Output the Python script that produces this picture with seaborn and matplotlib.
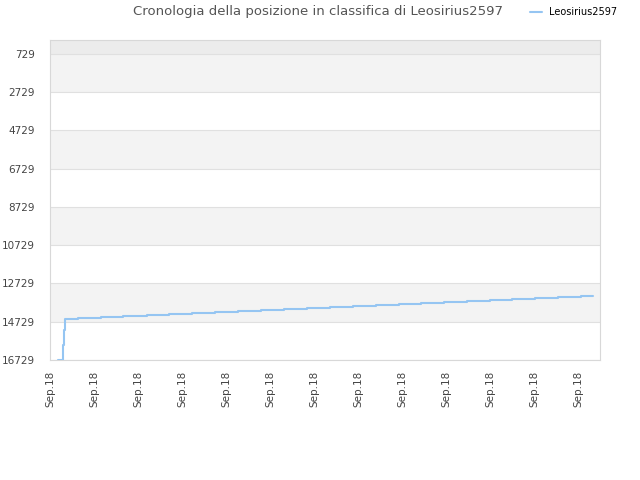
import numpy as np
import pandas as pd
import seaborn as sns
import matplotlib.pyplot as plt

# ranking history (x in days from the first tick, rank value)
day_pos = [0.38, 0.58, 0.59, 0.64, 0.70, 1.27, 2.32, 3.32, 4.41, 5.41, 6.45,
           7.50, 8.55, 9.59, 10.64, 11.68, 12.73, 13.77, 14.82, 15.86, 16.86,
           17.91, 18.95, 20.00, 21.00, 22.05, 23.09, 24.14, 24.68]
rank = [16729, 16729, 15950, 15160, 14575, 14523, 14470, 14418, 14366, 14314,
        14262, 14210, 14158, 14106, 14054, 14002, 13950, 13898, 13846, 13794,
        13742, 13690, 13638, 13586, 13534, 13482, 13430, 13365, 13365]

tick_pos = list(range(0, 25, 2))
tick_lbl = ["Sep.18"] * len(tick_pos)
y_ticks = [729, 2729, 4729, 6729, 8729, 10729, 12729, 14729, 16729]
player = "Leosirius2597"

df = pd.DataFrame({"day": day_pos, "rank": rank})

sns.set_style("white")
plt.rcParams['font.family'] = ['DejaVu Sans']

fig = plt.figure(figsize=(6.4, 4.8), dpi=100)
ax = fig.add_axes([50 / 640, 120 / 480, 550 / 640, 320 / 480])

# alternating bands
ax.axhspan(0, 729, color='#ececec', zorder=0, lw=0)
for lo in [729, 4729, 8729, 12729]:
    ax.axhspan(lo, lo + 2000, color='#f3f3f3', zorder=0, lw=0)

sns.lineplot(data=df, x="day", y="rank", color='#95c5f2', linewidth=1.5,
             drawstyle='steps-post', label=player, ax=ax, zorder=3)

ax.set_xlim(0, 25)
ax.set_ylim(16729, 0)
ax.set_yticks(y_ticks)
ax.set_yticklabels([str(v) for v in y_ticks])
ax.set_xticks(tick_pos)
ax.set_xticklabels(tick_lbl, rotation=90)
ax.yaxis.grid(True, color='#e0e0e0', linewidth=0.8)
ax.set_axisbelow(True)
ax.tick_params(axis='both', length=0, labelsize=7.5, colors='#444444')
ax.tick_params(axis='y', pad=11)
ax.tick_params(axis='x', pad=8)
ax.set_xlabel("")
ax.set_ylabel("")
for s in ax.spines.values():
    s.set_color('#d8d8d8')
    s.set_linewidth(0.8)

fig.text(318 / 640, 1 - 12 / 480, "Cronologia della posizione in classifica di " + player,
         ha='center', va='center', fontsize=9.5, color='#555555')

leg = ax.legend(loc='center left', bbox_to_anchor=(525 / 640, 1 - 12 / 480),
                bbox_transform=fig.transFigure, frameon=False, fontsize=7,
                handlelength=1.2, handletextpad=0.8, borderpad=0,
                labelcolor='black')

fig.savefig("out.png", dpi=100)
